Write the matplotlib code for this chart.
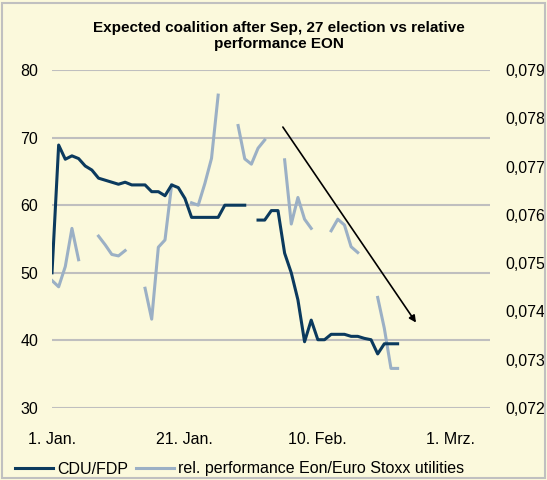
import numpy as np
import matplotlib.pyplot as plt
from matplotlib.patches import Rectangle

# Tage seit 1. Jan.
tage = list(range(53))

cdu_fdp = [50.0, 68.9, 66.8, 67.3, 66.9, 65.8, 65.2, 64.0, 63.7, 63.4,
           63.1, 63.4, 63.0, 63.0, 63.0, 62.0, 62.0, 61.4, 63.0, 62.6,
           61.0, 58.2, 58.2, 58.2, 58.2, 58.2, 60.0, 60.0, 60.0, 60.0,
           np.nan, 57.8, 57.8, 59.2, 59.2, 52.9, 50.0, 46.0, 39.8, 43.0,
           40.1, 40.1, 40.9, 40.9, 40.9, 40.6, 40.6, 40.3, 40.1, 38.0,
           39.5, 39.5, 39.5]

rel_perf = [0.07464, 0.07451, 0.07493, 0.07572, 0.07507, np.nan, np.nan, 0.07556, 0.07538, 0.07518,
            0.07515, 0.07526, np.nan, np.nan, 0.07448, 0.07384, 0.07533, 0.07548, 0.07662, np.nan,
            np.nan, 0.07625, 0.07620, 0.07665, 0.07717, 0.07848, np.nan, np.nan, 0.07785, 0.07716,
            0.07705, 0.07738, 0.07755, np.nan, np.nan, 0.07714, 0.07581, 0.07636, 0.07591, 0.07572,
            np.nan, np.nan, 0.07567, 0.07591, 0.07579, 0.07534, 0.07522, np.nan, np.nan, 0.07429,
            0.07365, 0.07282, 0.07282]

x_ticks = [0, 20, 40, 60]
x_labels = ["1. Jan.", "21. Jan.", "10. Feb.", "1. Mrz."]
links_ticks = [30, 40, 50, 60, 70, 80]
rechts_ticks = [0.072, 0.073, 0.074, 0.075, 0.076, 0.077, 0.078, 0.079]

hintergrund = "#fbf9dc"
dunkel = "#0b3a5e"
hell = "#9bb0c5"

plt.rcParams["font.family"] = ["Liberation Sans", "DejaVu Sans"]

fig = plt.figure(figsize=(5.47, 4.80), dpi=100)
fig.patch.set_facecolor(hintergrund)
fig.patches.append(Rectangle((0.004, 0.004), 0.992, 0.99, transform=fig.transFigure,
                             fill=False, edgecolor="#c0c0c0", linewidth=1.5))

ax = fig.add_axes([52 / 547, 72 / 480, 438 / 547, 338 / 480])
ax2 = ax.twinx()
ax.set_zorder(ax2.get_zorder() + 1)
ax.patch.set_visible(False)
ax2.patch.set_visible(False)

for a in (ax, ax2):
    for s in a.spines.values():
        s.set_visible(False)

ax.set_ylim(30, 80)
ax.set_yticks(links_ticks)
ax.set_xlim(0, 65.9)
ax.set_xticks(x_ticks)
ax.set_xticklabels(x_labels)
ax.tick_params(axis="both", length=0, labelsize=11.5)
ax.tick_params(axis="y", pad=10)
ax.tick_params(axis="x", pad=17)

ax2.set_ylim(0.072, 0.079)
ax2.set_yticks(rechts_ticks)
ax2.set_yticklabels([f"{v:.3f}".replace(".", ",") for v in rechts_ticks])
ax2.tick_params(axis="y", length=0, labelsize=11.5, pad=11)
# Gitterlinien auf der rechten Achse, damit sie unter beiden Linien liegen
for v in links_ticks:
    ax2.axhline(0.072 + (v - 30) / 50 * 0.007, color="#bfbfbf", linewidth=1.5, zorder=0)

l2, = ax2.plot(tage, rel_perf, color=hell, linewidth=2.2,
               label="rel. performance Eon/Euro Stoxx utilities")
l1, = ax.plot(tage, cdu_fdp, color=dunkel, linewidth=2.2, label="CDU/FDP")

ax.annotate("", xy=(55.0, 42.3), xytext=(34.5, 71.9),
            arrowprops=dict(arrowstyle="-|>", color="black", lw=1.2, mutation_scale=10))

fig.text(279 / 547, 1 - 36 / 480, "Expected coalition after Sep, 27 election vs relative\nperformance EON",
         ha="center", va="center", fontsize=11, fontweight="bold", linespacing=1.2)

fig.legend(handles=[l1, l2], loc="center left", bbox_to_anchor=(15 / 547, 1 - 469 / 480),
           ncol=2, frameon=False, fontsize=11.5, handlelength=2.4, handletextpad=0.25,
           columnspacing=0.45, borderpad=0, borderaxespad=0)

fig.savefig("out.png", dpi=100, facecolor=hintergrund)
